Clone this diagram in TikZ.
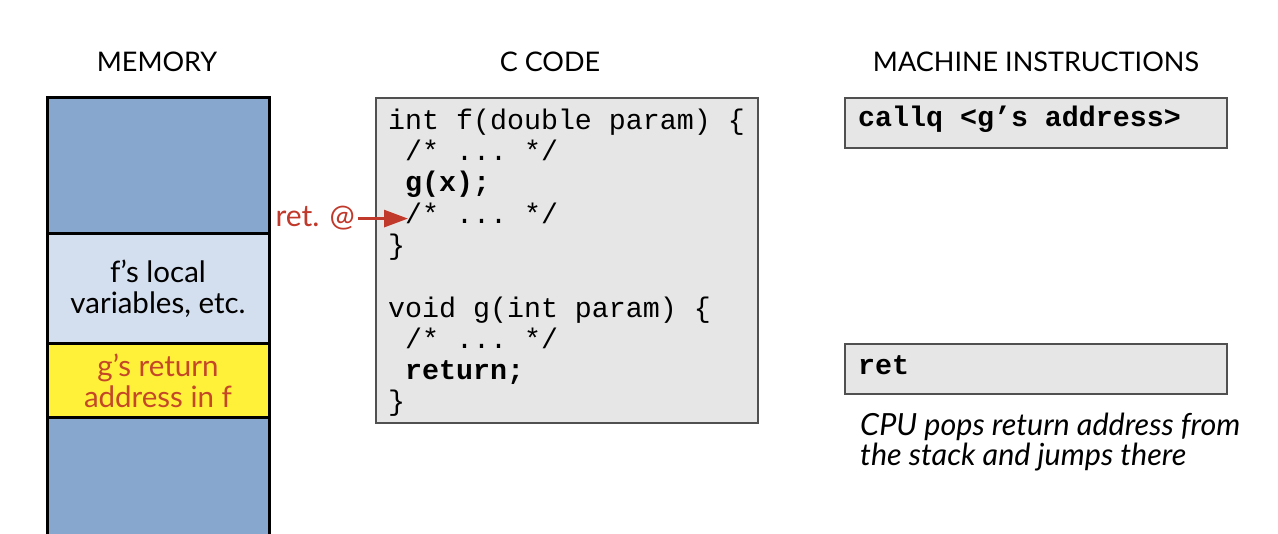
\documentclass[tikz,border=0pt]{standalone}
\usepackage{fontspec}
\setmainfont{Lato}
\setmonofont{Liberation Mono}
\usetikzlibrary{arrows.meta}
\definecolor{memblue}{RGB}{136,167,207}
\definecolor{memlight}{RGB}{211,222,239}
\definecolor{memyellow}{RGB}{255,241,58}
\definecolor{retred}{RGB}{192,57,43}
\definecolor{addrred}{RGB}{196,72,40}
\definecolor{codegray}{RGB}{230,230,230}
\definecolor{boxline}{RGB}{80,80,80}
\tikzset{
  memcell/.style={draw=black, line width=3pt, inner sep=0pt, minimum width=222pt, align=center, font=\fontsize{29.5}{31}\selectfont},
  codeline/.style={anchor=base west, inner sep=0pt, font=\fontsize{28.3}{31}\selectfont\ttfamily},
  header/.style={anchor=base, inner sep=0pt, font=\fontsize{27}{30}\selectfont},
  codebox/.style={draw=boxline, fill=codegray, line width=1.5pt, inner sep=0pt},
  note/.style={anchor=base west, inner sep=0pt, font=\fontsize{30.5}{30}\selectfont\itshape},
}
\begin{document}
\begin{tikzpicture}[x=1pt,y=-1pt]
\useasboundingbox[fill=white] (0,0) rectangle (1278,534);
% headers
\node[header] (hmem) at (157,72) {MEMORY};
\node[header] (hcode) at (550,72) {C CODE};
\node[header] (hmach) at (1036,72) {MACHINE INSTRUCTIONS};
% memory column
\node[memcell, fill=memblue, minimum height=136pt] (m1) at (158,166) {};
\node[memcell, fill=memlight, minimum height=110pt] (m2) at (158,289) {f’s local\\variables, etc.};
\node[memcell, fill=memyellow, minimum height=74pt, text=addrred] (m3) at (158,381) {g’s return\\address in f};
\node[memcell, fill=memblue, minimum height=122pt] (m4) at (158,479) {};
% code box
\node[codebox, minimum width=382pt, minimum height=325pt] (code) at (567,260.5) {};
\node[codeline] (l1) at (388,130) {int f(double param) \{};
\node[codeline] (l2) at (405,161) {/* ... */};
\node[codeline] (l3) at (405,192) {\bfseries g(x);};
\node[codeline] (l4) at (405,224) {/* ... */};
\node[codeline] (l5) at (388,255) {\}};
\node[codeline] (l6) at (388,318) {void g(int param) \{};
\node[codeline] (l7) at (405,349) {/* ... */};
\node[codeline] (l8) at (405,380) {\bfseries return;};
\node[codeline] (l9) at (388,411) {\}};
% return address arrow
\node[anchor=base east, inner sep=0pt, text=retred, font=\fontsize{30}{30}\selectfont] (retlbl) at (355,227) {ret. @};
\draw[retred, line width=3pt, -{Triangle[length=24pt,width=17pt]}] ([xshift=3pt]retlbl.east) -- ([xshift=3pt]retlbl.east -| l4.west);
% machine instructions
\node[codebox, minimum width=382pt, minimum height=50pt] (callbox) at (1036,123) {};
\node[codeline, font=\fontsize{28.3}{31}\selectfont\ttfamily\bfseries] (calltxt) at (858,127) {callq <g’s address>};
\node[codebox, minimum width=382pt, minimum height=50pt] (retbox) at (1036,369) {};
\node[codeline, font=\fontsize{28.3}{31}\selectfont\ttfamily\bfseries] (rettxt) at (858,375) {ret};
\node[note] (n1) at (860,436) {CPU pops return address from};
\node[note] (n2) at (860,466) {the stack and jumps there};
\end{tikzpicture}
\end{document}
